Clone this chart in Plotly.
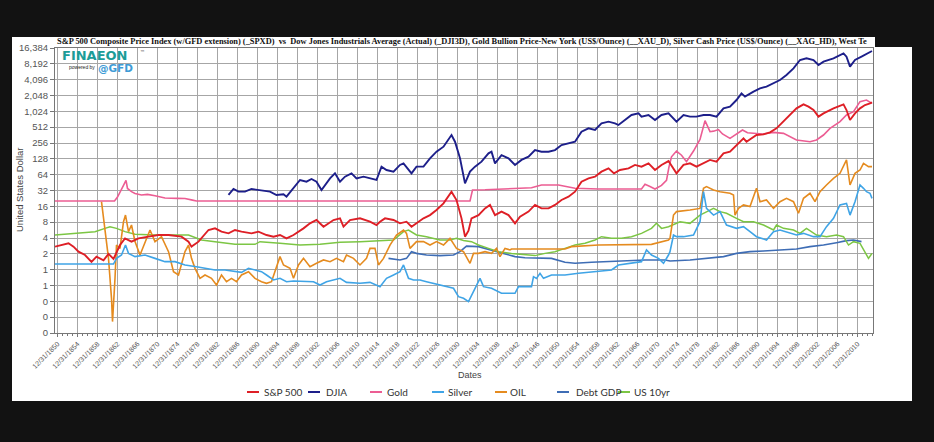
import math
import plotly.graph_objects as go

# ---------------- data ----------------
sp_years = [1850.5,1851.8,1853.2,1854.2,1855.2,1856.5,1857.8,1858.8,1860.2,1861.2,1862.2,1863.5,1864.5,1865.8,1867.2,1869.2,1871.2,1873.2,1875.8,1877.2,1877.8,1879.2,1881.2,1882.5,1883.8,1885.2,1886.5,1887.8,1889.8,1891.2,1892.8,1894.2,1895.5,1896.8,1898.2,1900.2,1901.5,1902.8,1904.2,1906.2,1907.5,1908.2,1909.5,1911.5,1913.5,1914.8,1915.5,1916.5,1918.2,1919.5,1920.8,1921.8,1922.8,1924.2,1925.5,1926.8,1928.2,1929.8,1930.8,1931.8,1932.5,1933.2,1933.8,1935.2,1936.5,1937.5,1938.5,1939.8,1941.2,1942.5,1943.5,1945.2,1946.5,1947.8,1949.2,1950.5,1951.8,1953.2,1954.5,1955.8,1957.2,1958.5,1959.8,1961.2,1962.3,1963.5,1965.2,1966.5,1967.8,1969.2,1970.5,1971.8,1973.2,1974.8,1976.2,1977.5,1978.8,1980.2,1981.5,1982.8,1984.2,1985.5,1986.8,1988.2,1988.8,1990.8,1992.2,1993.5,1994.8,1996.2,1997.5,1998.8,2000.2,2001.2,2002.2,2003.2,2004.2,2006.2,2008.2,2008.8,2009.5,2010.5,2011.5,2012.5,2013.5,2013.9]
sp_values = [2.74,2.94,3.17,2.74,2.20,1.90,1.40,1.77,1.50,2.00,1.60,2.94,3.94,3.41,3.94,4.24,4.56,4.56,4.24,3.41,2.74,3.41,5.68,6.10,5.28,4.90,5.68,5.28,4.90,5.28,4.56,4.24,4.56,3.94,4.56,6.10,7.60,8.79,6.57,8.79,9.46,6.57,8.79,9.46,8.17,7.07,8.17,9.46,8.79,7.60,8.17,6.57,7.60,9.46,10.9,13.6,18.2,30.4,21.1,9.46,4.24,5.5,9.46,10.9,14.6,17.0,10.9,12.7,10.9,7.60,10.2,12.7,17.0,14.6,14.6,17.0,21.1,24.4,30.4,47.1,54.5,58.6,73,84.5,67.8,78.5,84.5,98,91,105,78.5,98,116,67.8,98,105,91,105,122,113,163,175,234,314,271,363,374,408,486,651,872,1167,1391,1255,1085,811,938,1167,1391,1085,700,938,1167,1351,1453,1520]

djia_years = [1885.2,1886.2,1887.2,1888.5,1889.8,1891.2,1893.5,1894.8,1896.2,1896.8,1898.2,1899.5,1900.8,1901.8,1902.8,1903.8,1905.5,1906.5,1907.5,1908.5,1909.8,1910.8,1912.2,1913.5,1914.8,1915.8,1916.8,1918.2,1919.5,1920.2,1921.8,1922.8,1924.2,1925.5,1926.8,1928.2,1929.5,1929.8,1930.5,1931.5,1932.5,1933.5,1934.5,1935.8,1937.2,1937.8,1938.5,1939.8,1941.2,1942.5,1943.8,1945.2,1946.5,1947.8,1949.2,1950.5,1951.8,1953.2,1954.5,1955.8,1957.2,1958.5,1959.8,1961.2,1962.5,1963.2,1964.5,1965.8,1967.2,1967.8,1969.2,1970.5,1971.8,1973.2,1974.8,1976.2,1977.5,1978.8,1980.2,1981.5,1982.8,1984.2,1985.5,1986.8,1987.8,1988.5,1990.2,1991.5,1992.8,1994.2,1995.5,1996.8,1998.2,1999.5,2000.8,2002.2,2003.2,2004.2,2006.2,2008.2,2008.8,2009.5,2010.5,2011.8,2012.8,2013.9]
djia_values = [26.3,34.2,30.4,30.4,34.2,32.7,30.4,26.3,27.1,24.4,35.2,50.7,47.1,52.9,47.1,32.7,54.5,67.8,47.1,58.6,67.8,54.5,58.6,54.5,50.7,91,78.5,73,98,105,67.8,91,91,131,175,218,338,363,271,131,43.8,73,91,113,163,175,105,151,131,98,122,141,188,175,175,188,234,252,271,420,486,452,606,651,606,563,700,872,938,811,872,700,872,938,651,872,811,811,872,872,811,1167,1255,1680,2250,1945,2420,2800,3010,3490,4035,5020,6730,9690,10420,9690,7780,9000,10420,12970,11210,7240,9690,11210,12420,14360]

gold_years = [1850.5,1862.4,1863.0,1863.6,1864.2,1864.7,1865.0,1865.8,1866.5,1867.8,1869.0,1870.5,1872.5,1875.0,1876.5,1878.0,1878.8,1933.5,1934.0,1936.5,1942.5,1945.8,1947.8,1951.2,1954.5,1959.2,1967.8,1968.5,1969.5,1970.5,1971.8,1972.8,1973.3,1973.8,1974.8,1975.8,1976.8,1978.2,1979.5,1980.5,1981.5,1982.2,1983.2,1984.0,1985.5,1986.5,1988.0,1989.0,1990.5,1992.0,1994.2,1996.2,1998.8,2001.5,2002.8,2004.2,2005.5,2007.5,2008.8,2010.2,2011.5,2012.8,2013.9]
gold_values = [20.2,20.2,24,32,40,50,35,30.4,28,26.3,27,25.5,23,22.7,22.5,21,20.2,20.2,32.7,33,34.2,36,40.7,40.7,35.2,34.2,34.2,41.9,38,34.2,40,50,90,140,180,150,113,180,300,680,420,430,460,380,314,363,452,400,391,380,408,391,292,271,292,363,486,651,872,1009,1563,1680,1453]

silver_years = [1850.5,1862.2,1862.8,1863.8,1864.6,1865.2,1866.5,1868.5,1870.5,1872.5,1874.5,1876.5,1878.8,1880.5,1882.5,1884.5,1886.5,1887.8,1889.2,1890.5,1891.8,1892.8,1894.2,1895.5,1896.8,1898.2,1900.2,1902.2,1903.5,1904.8,1907.5,1908.8,1911.5,1913.5,1915.5,1916.8,1918.2,1919.5,1920.2,1921.2,1922.2,1923.5,1924.8,1926.2,1927.5,1928.8,1930.2,1931.2,1932.2,1933.2,1934.5,1935.5,1936.2,1937.8,1939.8,1942.5,1943.2,1945.8,1946.2,1946.8,1947.5,1948.2,1949.8,1952.5,1955.2,1959.2,1961.8,1963.2,1965.2,1967.8,1968.8,1969.8,1971.2,1972.2,1973.2,1973.5,1974.2,1974.8,1976.2,1978.2,1979.5,1980.2,1980.8,1982.2,1983.5,1984.8,1986.8,1988.2,1989.5,1990.8,1992.8,1994.2,1995.5,1997.5,1998.8,2000.2,2002.2,2003.5,2004.8,2006.2,2007.5,2008.8,2009.5,2010.5,2011.5,2012.2,2012.8,2013.5,2013.9]
silver_values = [1.28,1.28,1.64,1.90,2.94,2.04,1.77,1.90,1.64,1.42,1.42,1.23,1.14,1.06,0.985,0.985,0.916,0.89,1.06,0.985,0.916,0.792,0.636,0.684,0.591,0.609,0.591,0.591,0.511,0.591,0.684,0.574,0.55,0.574,0.475,0.684,0.792,0.916,1.23,0.684,0.636,0.636,0.591,0.55,0.511,0.475,0.442,0.307,0.285,0.246,0.442,0.684,0.475,0.442,0.355,0.355,0.475,0.475,0.736,0.684,0.852,0.684,0.792,0.792,0.852,0.916,0.985,1.226,1.32,1.42,2.37,1.90,1.64,1.32,1.90,2.2,4.56,4.24,4.24,4.56,8.17,30.4,14.6,10.9,12.7,7.07,6.10,6.57,5.28,4.24,3.66,5.28,5.68,4.90,4.56,4.90,4.24,4.24,6.57,9.46,17.0,18.2,10.9,19.6,40.7,35.2,30.4,28.3,22.7]

oil_years = [1859.8,1860.5,1861.2,1861.8,1862.0,1862.5,1862.8,1863.5,1864.2,1864.6,1865.2,1865.8,1866.5,1867.5,1868.5,1869.5,1870.5,1871.8,1873.2,1874.2,1875.2,1876.5,1877.2,1877.8,1878.5,1879.5,1880.5,1881.8,1882.8,1883.8,1884.8,1885.8,1886.8,1887.8,1889.2,1890.5,1891.8,1892.8,1893.8,1894.8,1895.5,1896.2,1897.5,1898.2,1899.2,1900.2,1901.5,1902.8,1904.2,1905.5,1906.8,1908.2,1908.8,1910.2,1911.5,1912.8,1913.5,1914.5,1915.2,1916.2,1917.5,1918.8,1920.2,1920.8,1921.5,1922.8,1924.2,1925.5,1926.8,1928.2,1929.5,1930.8,1932.2,1933.5,1934.2,1935.2,1936.5,1937.8,1938.8,1939.5,1940.5,1941.5,1941.8,1952.5,1953.8,1959.2,1969.8,1973.2,1973.5,1974.2,1974.8,1977.5,1979.5,1980.2,1980.8,1982.2,1983.5,1985.5,1986.2,1986.5,1987.2,1988.2,1989.5,1990.8,1991.5,1992.8,1994.2,1995.5,1996.8,1998.2,1999.2,2000.2,2001.5,2002.5,2003.5,2004.8,2006.2,2007.5,2008.8,2009.5,2010.5,2011.5,2012.2,2013.2,2013.9]
oil_values = [19.6,6.10,1.64,0.285,0.103,0.684,2.94,2.54,8.17,10.9,5.28,7.07,3.41,1.90,3.41,5.68,3.41,4.24,2.20,0.916,0.792,2.20,2.94,1.64,1.06,0.684,0.792,0.684,0.511,0.792,0.591,0.684,0.591,0.792,0.916,0.684,0.591,0.55,0.591,1.14,1.77,1.23,1.06,0.684,1.23,1.64,1.14,1.32,1.53,1.42,1.64,1.42,1.90,1.64,1.23,1.64,2.54,2.54,1.23,1.64,2.94,4.56,5.68,4.90,2.54,3.41,3.41,2.94,3.41,2.94,3.94,2.54,2.2,1.32,2.04,2.04,2.20,2.04,2.54,1.77,2.54,2.37,2.47,2.47,2.74,2.94,3.03,3.66,3.94,10.9,12.7,13.6,14.6,35.2,37.9,32.7,30.4,28.3,26.3,10.9,14.6,17.0,15.8,35.2,19.6,21.1,14.6,19.6,22.7,19.6,11.8,22.7,28.3,19.6,30.4,40.7,54.5,67.8,122,40.7,67.8,78.5,105,91,91]

debt_years = [1917.2,1919.5,1920.8,1921.8,1922.8,1924.8,1927.5,1930.2,1931.5,1932.8,1935.2,1937.8,1940.5,1942.5,1944.5,1947.2,1949.8,1952.5,1954.5,1957.8,1961.2,1964.5,1968.5,1972.5,1973.5,1977.5,1981.5,1984.2,1986.8,1989.5,1992.2,1994.8,1998.8,2001.5,2004.2,2006.8,2008.8,2010.2,2011.8]
debt_values = [1.64,1.53,1.64,2.20,2.04,1.90,1.85,1.90,2.20,2.80,2.74,2.37,2.04,1.77,1.69,1.64,1.64,1.38,1.32,1.38,1.42,1.46,1.53,1.53,1.46,1.53,1.64,1.77,2.04,2.20,2.26,2.37,2.47,2.74,2.94,3.26,3.56,3.66,3.41]

us10_years = [1850.5,1854.5,1858.5,1860.5,1861.5,1862.8,1864.5,1866.5,1870.5,1877.2,1878.5,1879.8,1882.5,1886.5,1890.5,1891.5,1895.5,1899.5,1903.5,1907.5,1911.5,1915.5,1918.2,1920.2,1921.2,1922.8,1924.8,1927.5,1929.5,1930.8,1932.2,1933.8,1935.2,1937.2,1939.2,1941.8,1944.5,1946.5,1948.5,1950.5,1952.5,1954.5,1956.5,1958.5,1959.8,1961.8,1963.8,1965.8,1967.8,1969.8,1970.8,1971.8,1973.2,1975.5,1977.5,1979.5,1981.5,1982.2,1983.5,1984.8,1986.8,1988.2,1990.2,1992.2,1994.2,1994.8,1996.2,1998.2,1999.5,2000.8,2002.8,2004.8,2006.8,2008.2,2009.2,2010.2,2011.5,2012.5,2013.2,2013.9]
us10_values = [4.56,4.90,5.28,6.10,6.57,6.10,5.28,4.70,4.56,4.56,4.06,3.66,3.41,3.03,3.03,3.41,3.17,2.94,3.03,3.31,3.41,3.51,3.66,5.28,5.68,4.56,4.24,3.66,3.66,3.94,3.6,3.41,2.94,2.54,2.20,2.04,1.96,1.85,2.04,2.20,2.54,2.94,3.17,3.66,4.24,3.94,3.94,4.24,4.90,6.10,7.60,6.10,6.57,8.17,7.60,10.9,13.6,14.6,12.7,11.8,9.46,8.17,8.17,7.07,5.68,7.07,6.10,5.68,4.90,6.10,4.56,4.24,4.56,4.24,2.94,3.41,3.17,2.20,1.64,2.04]

series_names = ["S&P 500", "DJIA", "Gold", "Silver", "OIL", "Debt GDP", "US 10yr"]

y_tick_values = [16384, 8192, 4096, 2048, 1024, 512, 256, 128, 64, 32, 16, 8, 4, 2, 1, 0.5, 0.25, 0.125, 0.0625]
y_tick_labels = ["16,384", "8,192", "4,096", "2,048", "1,024", "512", "256", "128", "64", "32", "16", "8", "4", "2", "1", "1", "0", "0", "0"]

x_tick_values = list(range(1851, 2012, 4))
x_tick_labels = ["12/31/%d" % (v - 1) for v in x_tick_values]

title_text = ("S&P 500 Composite Price Index (w/GFD extension) (_SPXD)  vs  Dow Jones Industrials Average (Actual) (_DJI3D), "
              "Gold Bullion Price-New York (US$/Ounce) (__XAU_D), Silver Cash Price (US$/Ounce) (__XAG_HD), West Te")

# ---------------- styles ----------------
colors = {
    "S&P 500": "#DE1F26",
    "DJIA": "#1D1F8A",
    "Gold": "#EC5D93",
    "Silver": "#3FA4E6",
    "OIL": "#E58B1F",
    "Debt GDP": "#3E6DB5",
    "US 10yr": "#7CC644",
}

# plot area in pixels (left, right, top, bottom)
L, R, T, B = 55, 873, 48, 333
W, H = 934, 442
BG = "#121212"


def px_x(p):
    return (p - L) / (R - L)


def px_y(p):
    return (B - p) / (B - T)


fig = go.Figure()
draw = [
    ("Debt GDP", debt_years, debt_values, 1.6),
    ("US 10yr", us10_years, us10_values, 1.5),
    ("OIL", oil_years, oil_values, 1.6),
    ("Silver", silver_years, silver_values, 1.6),
    ("Gold", gold_years, gold_values, 1.6),
    ("DJIA", djia_years, djia_values, 1.9),
    ("S&P 500", sp_years, sp_values, 1.9),
]
for name, xs, ys, w in draw:
    fig.add_trace(go.Scatter(x=xs, y=ys, mode="lines", name=name,
                             line=dict(color=colors[name], width=w),
                             showlegend=False))

sans = "Liberation Sans, Arial, sans-serif"

shapes = [
    dict(type="rect", xref="paper", yref="paper", layer="below",
         x0=px_x(12), x1=px_x(912), y0=px_y(401), y1=px_y(37),
         fillcolor="white", line=dict(width=0)),
    dict(type="rect", xref="paper", yref="paper", layer="below",
         x0=px_x(875), x1=px_x(934), y0=px_y(47), y1=px_y(0),
         fillcolor=BG, line=dict(width=0)),
]

# legend samples (short coloured strokes) and their label starts, in pixels
legend_line_x = [247, 308, 370, 432, 495, 557, 618]
legend_text_x = [263, 325, 386, 447, 509, 575, 633]
for name, lx in zip(series_names, legend_line_x):
    shapes.append(dict(type="line", xref="paper", yref="paper",
                       x0=px_x(lx), x1=px_x(lx + 12), y0=px_y(392), y1=px_y(392),
                       line=dict(color=colors[name], width=2)))

fig.update_layout(
    width=W, height=H,
    margin=dict(l=L, r=W - R, t=T, b=H - B),
    paper_bgcolor=BG,
    plot_bgcolor="#fbfcfe",
    xaxis=dict(
        range=[1850.5, 2014.1],
        tickmode="array", tickvals=x_tick_values, ticktext=x_tick_labels,
        tickangle=-45, tickfont=dict(family=sans, size=7, color="#555555"),
        showgrid=True, gridcolor="#a6a6a6", gridwidth=1,
        ticks="outside", ticklen=3, tickcolor="#777777",
        showline=True, linecolor="#777777", mirror=True, zeroline=False,
        minor=dict(tickmode="linear", tick0=1851, dtick=1, ticks="outside", ticklen=2,
                   tickcolor="#777777", showgrid=False),
    ),
    yaxis=dict(
        type="log",
        range=[math.log10(0.0625), math.log10(16384)],
        tickmode="array", tickvals=y_tick_values, ticktext=y_tick_labels,
        tickfont=dict(family=sans, size=9.5, color="#555555"),
        showgrid=True, gridcolor="#a6a6a6", gridwidth=1,
        ticks="outside", ticklen=4, tickcolor="#777777",
        showline=True, linecolor="#777777", mirror=True, zeroline=False,
    ),
    shapes=shapes,
)

ann = []
ann.append(dict(text="<b>" + title_text.replace("&", "&amp;") + "</b>", xref="paper", yref="paper",
                x=0, y=px_y(42), xanchor="left", yanchor="middle", showarrow=False,
                font=dict(family="Liberation Serif, Times New Roman, serif", size=8.4, color="#111111")))
ann.append(dict(text="United States Dollar", xref="paper", yref="paper", x=px_x(19), y=px_y(190),
                textangle=-90, showarrow=False, xanchor="center", yanchor="middle",
                font=dict(family=sans, size=9.5, color="#444444")))
ann.append(dict(text="Dates", xref="paper", yref="paper", x=px_x(470), y=px_y(375),
                showarrow=False, xanchor="center", yanchor="middle",
                font=dict(family=sans, size=9, color="#444444")))
# logo
ann.append(dict(text="<b>FINAEON</b>", xref="paper", yref="paper", x=px_x(60), y=px_y(56),
                showarrow=False, xanchor="left", yanchor="middle",
                font=dict(family="DejaVu Sans, sans-serif", size=13, color="#1C9C98")))
ann.append(dict(text="™", xref="paper", yref="paper", x=px_x(138), y=px_y(52),
                showarrow=False, xanchor="left", yanchor="middle",
                font=dict(family="DejaVu Sans, sans-serif", size=5, color="#333333")))
ann.append(dict(text="powered by", xref="paper", yref="paper", x=px_x(67), y=px_y(67),
                showarrow=False, xanchor="left", yanchor="middle",
                font=dict(family=sans, size=5, color="#222222")))
ann.append(dict(text="<b>@GFD</b>", xref="paper", yref="paper", x=px_x(96), y=px_y(68),
                showarrow=False, xanchor="left", yanchor="middle",
                font=dict(family="DejaVu Sans, sans-serif", size=10.5, color="#3D9BD6")))

for name, tx in zip(series_names, legend_text_x):
    ann.append(dict(text=name.replace("&", "&amp;"),
                    xref="paper", yref="paper", x=px_x(tx), y=px_y(392),
                    showarrow=False, xanchor="left", yanchor="middle", borderpad=0,
                    font=dict(family="Lato, sans-serif", size=10, color="#333333")))
fig.update_layout(annotations=ann)

# remove the browser's default 8px page margin so the figure sits at the window origin
fig.write_html("out.html",
               config={"displayModeBar": False},
               post_script="document.body.style.margin='0';document.body.style.overflow='hidden';")
